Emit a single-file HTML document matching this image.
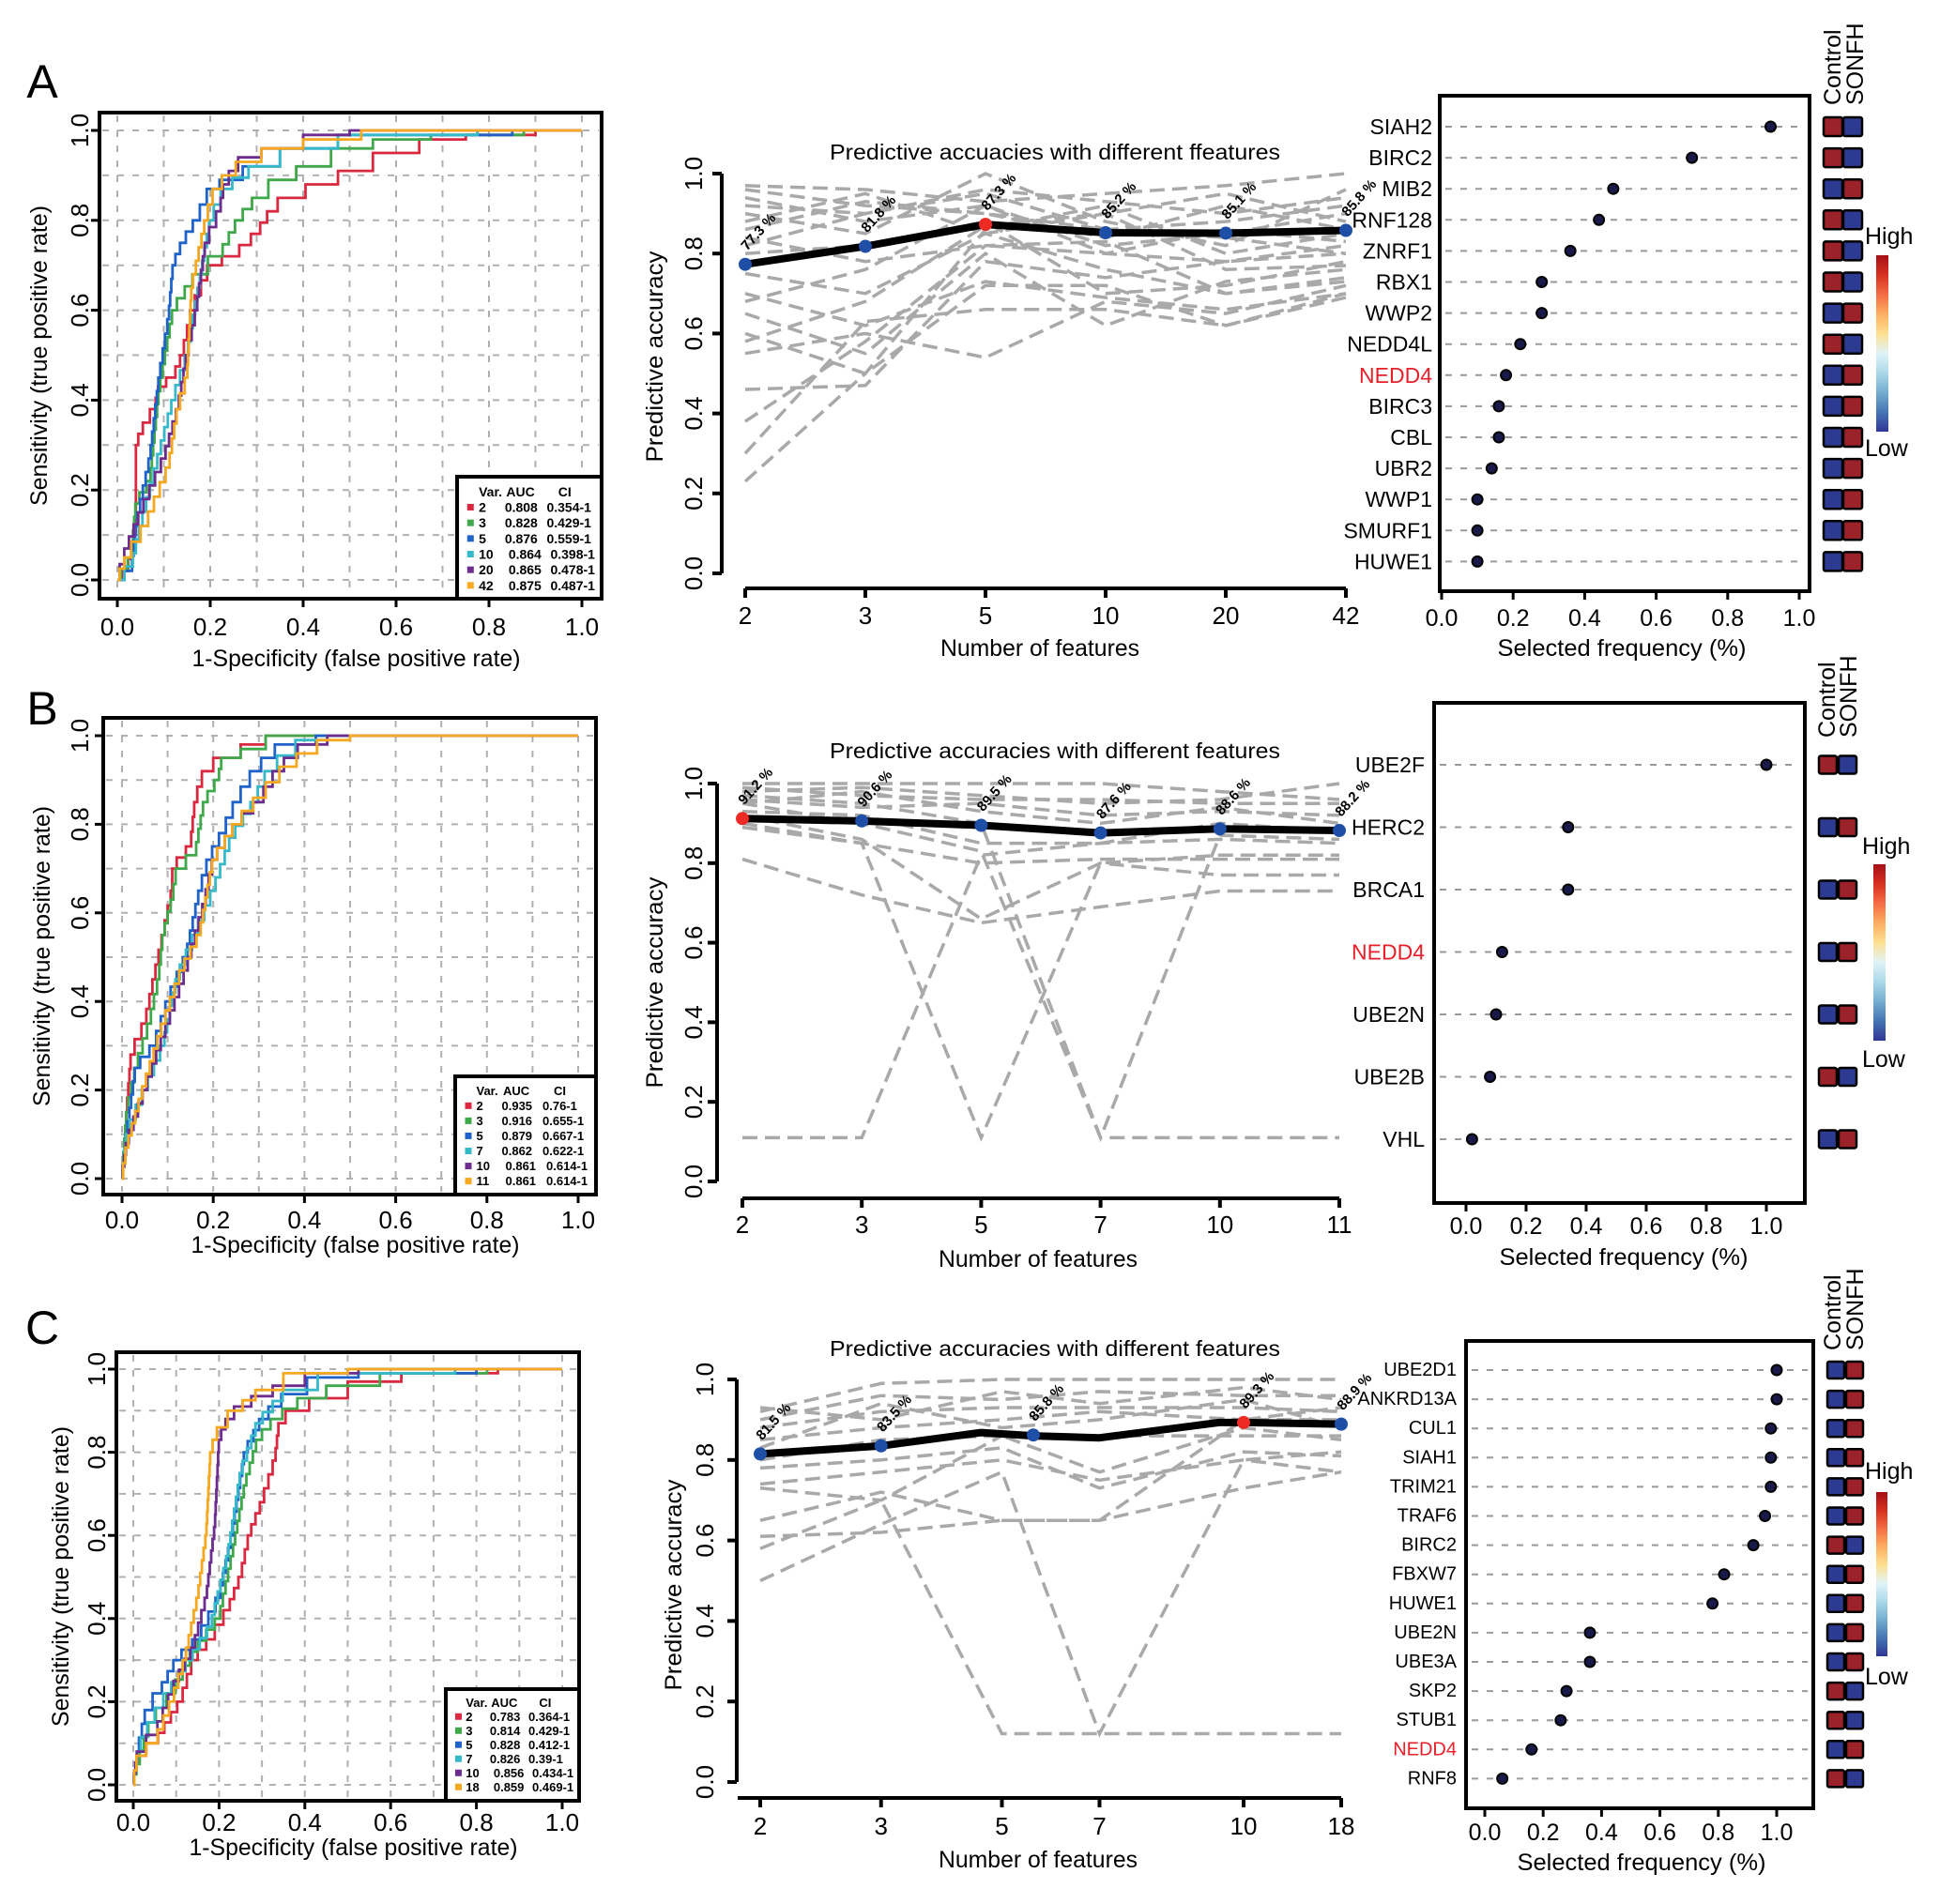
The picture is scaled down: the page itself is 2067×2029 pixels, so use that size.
<!DOCTYPE html>
<html><head><meta charset="utf-8"><style>
html,body{margin:0;padding:0;background:#fff;}
svg{display:block;font-family:"Liberation Sans",Arial,sans-serif;}
</style></head><body>
<svg id="fig" xmlns="http://www.w3.org/2000/svg" width="2067" height="2029" viewBox="0 0 2067 2029"></svg>
<script>
// ===== ROC data (fpr, tpr) =====
const rocA_2=[[0,0],[0.02,0.02],[0.04,0.1],[0.04,0.3],[0.06,0.35],[0.08,0.38],[0.09,0.43],[0.12,0.45],[0.14,0.5],[0.16,0.6],[0.2,0.7],[0.25,0.72],[0.3,0.77],[0.33,0.82],[0.36,0.85],[0.45,0.88],[0.5,0.91],[0.6,0.95],[0.7,0.98],[0.8,0.99],[1,1]];
const rocA_3=[[0,0],[0.03,0.05],[0.04,0.17],[0.07,0.22],[0.09,0.42],[0.12,0.6],[0.17,0.68],[0.22,0.72],[0.26,0.8],[0.3,0.85],[0.35,0.89],[0.42,0.92],[0.5,0.96],[0.6,0.98],[0.75,0.99],[1,1]];
const rocA_5=[[0,0],[0.03,0.02],[0.04,0.12],[0.07,0.27],[0.09,0.45],[0.11,0.58],[0.12,0.7],[0.14,0.75],[0.17,0.8],[0.2,0.87],[0.24,0.89],[0.3,0.92],[0.4,0.96],[0.55,0.99],[0.7,0.99],[1,1]];
const rocA_10=[[0,0],[0.03,0.03],[0.05,0.12],[0.09,0.28],[0.12,0.4],[0.15,0.5],[0.17,0.62],[0.2,0.8],[0.23,0.87],[0.3,0.92],[0.4,0.96],[0.55,0.99],[1,1]];
const rocA_20=[[0,0],[0.02,0.07],[0.05,0.15],[0.1,0.27],[0.13,0.38],[0.15,0.5],[0.17,0.6],[0.19,0.75],[0.22,0.82],[0.23,0.88],[0.27,0.94],[0.35,0.96],[0.45,0.99],[0.55,1],[1,1]];
const rocA_42=[[0,0],[0.02,0.05],[0.06,0.12],[0.11,0.25],[0.13,0.38],[0.15,0.45],[0.16,0.65],[0.19,0.8],[0.21,0.87],[0.27,0.93],[0.35,0.96],[0.45,0.98],[0.6,1],[1,1]];
const rocB_2=[[0,0],[0.01,0.15],[0.02,0.28],[0.05,0.35],[0.07,0.45],[0.09,0.55],[0.11,0.65],[0.11,0.7],[0.15,0.75],[0.16,0.85],[0.18,0.92],[0.22,0.95],[0.3,0.98],[0.33,1],[1,1]];
const rocB_3=[[0,0],[0.01,0.15],[0.03,0.25],[0.06,0.35],[0.08,0.45],[0.09,0.55],[0.11,0.63],[0.12,0.7],[0.16,0.73],[0.18,0.85],[0.21,0.9],[0.22,0.95],[0.3,0.97],[0.33,1],[1,1]];
const rocB_5=[[0,0],[0.01,0.1],[0.03,0.25],[0.07,0.3],[0.1,0.4],[0.14,0.5],[0.17,0.65],[0.19,0.72],[0.22,0.78],[0.25,0.85],[0.29,0.92],[0.35,0.98],[0.5,1],[1,1]];
const rocB_7=[[0,0],[0.01,0.1],[0.05,0.2],[0.09,0.3],[0.12,0.45],[0.16,0.55],[0.2,0.65],[0.24,0.77],[0.29,0.85],[0.32,0.92],[0.4,0.99],[0.5,1],[1,1]];
const rocB_10=[[0,0],[0.01,0.08],[0.05,0.2],[0.1,0.35],[0.14,0.47],[0.18,0.62],[0.2,0.72],[0.25,0.8],[0.3,0.85],[0.34,0.92],[0.4,0.98],[0.5,1],[1,1]];
const rocB_11=[[0,0],[0.01,0.07],[0.04,0.18],[0.09,0.35],[0.13,0.47],[0.17,0.55],[0.2,0.72],[0.25,0.8],[0.3,0.86],[0.36,0.93],[0.45,0.99],[0.55,1],[1,1]];
const rocC_2=[[0,0],[0.01,0.07],[0.05,0.1],[0.08,0.15],[0.11,0.2],[0.14,0.3],[0.18,0.35],[0.22,0.42],[0.25,0.5],[0.27,0.6],[0.3,0.68],[0.33,0.78],[0.34,0.87],[0.37,0.9],[0.45,0.93],[0.55,0.97],[0.7,0.99],[1,1]];
const rocC_3=[[0,0],[0.01,0.05],[0.04,0.15],[0.09,0.22],[0.14,0.32],[0.2,0.4],[0.23,0.55],[0.26,0.72],[0.29,0.83],[0.33,0.88],[0.4,0.93],[0.5,0.96],[0.65,0.99],[1,1]];
const rocC_5=[[0,0],[0.01,0.08],[0.03,0.18],[0.06,0.22],[0.1,0.3],[0.15,0.35],[0.2,0.45],[0.23,0.6],[0.26,0.8],[0.3,0.88],[0.36,0.94],[0.45,0.98],[0.6,0.99],[1,1]];
const rocC_7=[[0,0],[0.01,0.08],[0.04,0.15],[0.08,0.22],[0.13,0.3],[0.18,0.38],[0.22,0.55],[0.25,0.75],[0.29,0.87],[0.36,0.95],[0.5,0.99],[1,1]];
const rocC_10=[[0,0],[0.01,0.08],[0.05,0.12],[0.1,0.25],[0.14,0.33],[0.17,0.45],[0.19,0.62],[0.2,0.83],[0.22,0.88],[0.25,0.91],[0.35,0.96],[0.45,0.99],[0.6,1],[1,1]];
const rocC_18=[[0,0],[0.01,0.07],[0.05,0.1],[0.09,0.2],[0.12,0.3],[0.15,0.45],[0.17,0.6],[0.18,0.8],[0.2,0.86],[0.24,0.9],[0.3,0.95],[0.4,0.99],[0.6,1],[1,1]];
const legendA_var=["2","3","5","10","20","42"];
const legendA_auc=["0.808","0.828","0.876","0.864","0.865","0.875"];
const legendA_ci=["0.354-1","0.429-1","0.559-1","0.398-1","0.478-1","0.487-1"];
const legendB_var=["2","3","5","7","10","11"];
const legendB_auc=["0.935","0.916","0.879","0.862","0.861","0.861"];
const legendB_ci=["0.76-1","0.655-1","0.667-1","0.622-1","0.614-1","0.614-1"];
const legendC_var=["2","3","5","7","10","18"];
const legendC_auc=["0.783","0.814","0.828","0.826","0.856","0.859"];
const legendC_ci=["0.364-1","0.429-1","0.412-1","0.39-1","0.434-1","0.469-1"];
const rocTicks=[0,0.2,0.4,0.6,0.8,1.0];
const rocTickLabels=["0.0","0.2","0.4","0.6","0.8","1.0"];

// ===== Accuracy data =====
const accA_cats=["2","3","5","10","20","42"];
const accA_vals=[0.773,0.818,0.873,0.852,0.851,0.858];
const accA_labels=["77.3 %","81.8 %","87.3 %","85.2 %","85.1 %","85.8 %"];
const accA_best=2;
const accA_gray=[[0.96,0.92,0.9,0.86,0.88,0.92],[0.94,0.88,0.92,0.82,0.85,0.9],[0.9,0.85,1.0,0.88,0.82,0.96],[0.88,0.95,0.85,0.9,0.95,0.88],[0.84,0.78,0.82,0.8,0.78,0.82],[0.8,0.82,0.88,0.7,0.72,0.78],[0.75,0.7,0.85,0.76,0.7,0.74],[0.7,0.62,0.73,0.69,0.66,0.7],[0.65,0.55,0.8,0.62,0.73,0.76],[0.6,0.5,0.72,0.72,0.62,0.69],[0.55,0.6,0.54,0.68,0.65,0.72],[0.46,0.47,0.78,0.74,0.78,0.8],[0.38,0.58,0.82,0.83,0.7,0.73],[0.3,0.63,0.66,0.66,0.62,0.7],[0.23,0.5,0.86,0.92,0.8,0.85],[0.97,0.96,0.93,0.95,0.97,1.0],[0.92,0.9,0.96,0.93,0.9,0.94],[0.86,0.93,0.9,0.84,0.92,0.86],[0.82,0.9,0.95,0.86,0.84,0.8],[0.68,0.76,0.92,0.8,0.86,0.83],[0.58,0.68,0.87,0.9,0.76,0.77]];
const accB_cats=["2","3","5","7","10","11"];
const accB_vals=[0.912,0.906,0.895,0.876,0.886,0.882];
const accB_labels=["91.2 %","90.6 %","89.5 %","87.6 %","88.6 %","88.2 %"];
const accB_best=0;
const accB_gray=[[1,1,1,1,0.98,0.96],[0.98,0.99,0.97,0.95,0.96,1.0],[0.96,0.94,0.95,0.92,0.93,0.92],[0.93,0.92,0.85,0.85,0.9,0.88],[0.89,0.85,0.8,0.81,0.81,0.81],[0.81,0.72,0.65,0.69,0.73,0.73],[0.92,0.86,0.66,0.8,0.77,0.77],[0.11,0.11,0.82,0.85,0.86,0.85],[0.9,0.85,0.11,0.8,0.82,0.82],[0.95,0.9,0.83,0.11,0.11,0.11],[0.97,0.95,0.9,0.11,0.87,0.86],[0.99,0.97,0.96,0.96,0.95,0.95],[0.95,0.98,0.93,0.9,0.94,0.9]];
const accC_cats=["2","3","5","7","10","18"];
const accC_tickUnits=[0,1.04,2.08,2.92,4.16,5];
const accC_lineX=[0,1.04,1.9,2.35,2.92,3.95,4.16,5];
const accC_lineY=[0.815,0.835,0.868,0.86,0.855,0.893,0.893,0.889];
const accC_markX=[0,1.04,2.35,4.16,5];
const accC_markY=[0.815,0.835,0.862,0.893,0.889];
const accC_labels=["81.5 %","83.5 %","85.8 %","89.3 %","88.9 %"];
const accC_best=3;
const accC_gray=[[0.92,0.99,1,1,1,1],[0.9,0.96,0.95,0.97,0.96,0.96],[0.88,0.92,0.93,0.93,0.93,0.92],[0.85,0.88,0.9,0.92,0.9,0.9],[0.8,0.85,0.86,0.77,0.88,0.85],[0.78,0.8,0.83,0.73,0.82,0.81],[0.74,0.77,0.8,0.75,0.8,0.77],[0.65,0.72,0.65,0.65,0.73,0.77],[0.61,0.62,0.65,0.65,0.9,0.93],[0.58,0.7,0.12,0.12,0.12,0.12],[0.5,0.64,0.77,0.12,0.8,0.82],[0.73,0.7,0.86,0.86,0.86,0.86],[0.93,0.9,0.97,0.94,0.98,0.95],[0.83,0.94,0.88,0.9,0.95,0.88]];
const accTicks=[0,0.2,0.4,0.6,0.8,1.0];
const accTickLabels=["0.0","0.2","0.4","0.6","0.8","1.0"];

// ===== Selected frequency data =====
const freqA_genes=["SIAH2","BIRC2","MIB2","RNF128","ZNRF1","RBX1","WWP2","NEDD4L","NEDD4","BIRC3","CBL","UBR2","WWP1","SMURF1","HUWE1"];
const freqA_vals=[0.92,0.70,0.48,0.44,0.36,0.28,0.28,0.22,0.18,0.16,0.16,0.14,0.10,0.10,0.10];
const freqA_ctrlHigh=[1,1,0,1,1,1,0,1,0,0,0,0,0,0,0];
const freqB_genes=["UBE2F","HERC2","BRCA1","NEDD4","UBE2N","UBE2B","VHL"];
const freqB_vals=[1.0,0.34,0.34,0.12,0.10,0.08,0.02];
const freqB_ctrlHigh=[1,0,0,0,0,1,0];
const freqC_genes=["UBE2D1","ANKRD13A","CUL1","SIAH1","TRIM21","TRAF6","BIRC2","FBXW7","HUWE1","UBE2N","UBE3A","SKP2","STUB1","NEDD4","RNF8"];
const freqC_vals=[1.0,1.0,0.98,0.98,0.98,0.96,0.92,0.82,0.78,0.36,0.36,0.28,0.26,0.16,0.06];
const freqC_ctrlHigh=[0,0,0,0,0,0,1,0,0,0,0,1,1,0,1];
const freqTicks=[0,0.2,0.4,0.6,0.8,1.0];
const freqTickLabels=["0.0","0.2","0.4","0.6","0.8","1.0"];

const NS="http://www.w3.org/2000/svg";
const svg=document.getElementById('fig');
function mk(tag,attrs,parent,name,inter){
  const e=document.createElementNS(NS,tag);
  for(const k in attrs) e.setAttribute(k,attrs[k]);
  
  
  (parent||svg).appendChild(e);
  return e;
}
function txt(s,x,y,attrs,parent,name){
  const a=Object.assign({x:x,y:y,'dominant-baseline':'central','text-anchor':'middle'},attrs||{});
  const t=mk('text',a,parent,name);
  t.textContent=s;
  return t;
}
const rocColors=["#d9283f","#3fa84a","#1f62c9","#36b9c9","#6c2d8e","#f6a821"];

function rocPanel(G,curves,lv,la,lc,letter,id){
  const g=mk('g',{},svg,'roc-panel-'+id);
  const sx=v=>G.x0+(G.x1-G.x0)*v, sy=v=>G.y0+(G.y1-G.y0)*v;
  txt(letter,G.lx,G.ly,{'font-size':50},g,'panel-label-'+id);
  for(let i=0;i<=10;i++){
    const v=i/10;
    mk('line',{x1:sx(v),x2:sx(v),y1:G.t+3,y2:G.b-3,stroke:'#b0b0b0','stroke-width':2,'stroke-dasharray':'7 9'},g,'grid-v');
    mk('line',{x1:G.l+3,x2:G.r-3,y1:sy(v),y2:sy(v),stroke:'#b0b0b0','stroke-width':2,'stroke-dasharray':'7 9'},g,'grid-h');
  }
  curves.forEach((c,ci)=>{
    // staircase: rise in small steps between points
    let pts=[];
    for(let k=0;k<c.length;k++){
      if(k===0){pts.push([c[0][0],c[0][1]]);continue;}
      const a=c[k-1],b=c[k];
      const n=Math.max(1,Math.round((b[1]-a[1])/0.03));
      for(let s=1;s<=n;s++){
        const fx=a[0]+(b[0]-a[0])*(s-0.5)/n, fy=a[1]+(b[1]-a[1])*s/n;
        pts.push([fx,a[1]+(b[1]-a[1])*(s-1)/n]);
        pts.push([fx,fy]);
      }
      pts.push([b[0],b[1]]);
    }
    const ps=pts.map(p=>sx(p[0]).toFixed(1)+','+sy(p[1]).toFixed(1)).join(' ');
    mk('polyline',{points:ps,fill:'none',stroke:rocColors[ci],'stroke-width':2.8,'stroke-linejoin':'miter'},g,'roc-curve-'+lv[ci]);
  });
  mk('rect',{x:G.l,y:G.t,width:G.r-G.l,height:G.b-G.t,fill:'none',stroke:'#000','stroke-width':4},g,'plot-frame');
  rocTicks.forEach((v,i)=>{
    mk('line',{x1:sx(v),x2:sx(v),y1:G.b,y2:G.b+9,stroke:'#000','stroke-width':3},g,'x-tick');
    txt(rocTickLabels[i],sx(v),G.tly,{'font-size':26},g,'x-tick-label');
    mk('line',{x1:G.l-9,x2:G.l,y1:sy(v),y2:sy(v),stroke:'#000','stroke-width':3},g,'y-tick');
    txt(rocTickLabels[i],G.ytx,sy(v),{'font-size':26,transform:'rotate(-90 '+G.ytx+' '+sy(v)+')'},g,'y-tick-label');
  });
  txt('1-Specificity (false positive rate)',(G.l+G.r)/2+6,G.xly,{'font-size':25,textLength:350,lengthAdjust:'spacingAndGlyphs'},g,'x-axis-title');
  const yc=(G.t+G.b)/2;
  txt('Sensitivity (true positive rate)',G.ylx,yc,{'font-size':25,textLength:320,lengthAdjust:'spacingAndGlyphs',transform:'rotate(-90 '+G.ylx+' '+yc+')'},g,'y-axis-title');
  // legend
  const L=mk('g',{},g,'legend');
  const w=G.r-G.lgl;
  const fs=w>150?14:13;
  mk('rect',{x:G.lgl,y:G.lgt,width:w,height:G.b-G.lgt,fill:'#fff',stroke:'#000','stroke-width':4},L,'legend-box');
  const step=(G.b-G.lgt-20)/6.6;
  const hy=G.lgt+step*0.95;
  txt('Var.',G.lgl+0.15*w,hy,{'font-size':fs,'font-weight':'bold','text-anchor':'start'},L,'legend-header-var');
  txt('AUC',G.lgl+0.34*w,hy,{'font-size':fs,'font-weight':'bold','text-anchor':'start'},L,'legend-header-auc');
  txt('CI',G.lgl+0.7*w,hy,{'font-size':fs,'font-weight':'bold','text-anchor':'start'},L,'legend-header-ci');
  lv.forEach((v,i)=>{
    const y=hy+step*(i+1);
    const e=mk('g',{},L,'legend-entry-'+v);
    mk('rect',{x:G.lgl+0.07*w,y:y-3.5,width:7,height:7,fill:rocColors[i]},e,'legend-swatch');
    txt(v,G.lgl+0.15*w,y,{'font-size':fs,'font-weight':'bold','text-anchor':'start'},e,'legend-var');
    txt(la[i],G.lgl+0.33*w+(v.length>1?4:0),y,{'font-size':fs,'font-weight':'bold','text-anchor':'start'},e,'legend-auc');
    txt(lc[i],G.lgl+0.62*w+(v.length>1?4:0),y,{'font-size':fs,'font-weight':'bold','text-anchor':'start'},e,'legend-ci');
  });
}

function accPanel(G,cats,tickUnits,gray,lineX,lineY,markX,markY,labels,best,title,id){
  const g=mk('g',{},svg,'accuracy-panel-'+id);
  const maxU=tickUnits[tickUnits.length-1];
  const sx=u=>G.xa+(G.xb-G.xa)*u/maxU, sy=v=>G.y0+(G.y1-G.y0)*v;
  txt(title,G.tx,G.ty,{'font-size':23,textLength:G.tw,lengthAdjust:'spacingAndGlyphs'},g,'chart-title');
  gray.forEach((s)=>{
    const pts=s.map((v,i)=>sx(tickUnits[i]).toFixed(1)+','+sy(v).toFixed(1)).join(' ');
    mk('polyline',{points:pts,fill:'none',stroke:'#a9a9a9','stroke-width':3.5,'stroke-dasharray':'16 8'},g,'gray-run-line');
  });
  const pts=lineX.map((u,i)=>sx(u).toFixed(1)+','+sy(lineY[i]).toFixed(1)).join(' ');
  mk('polyline',{points:pts,fill:'none',stroke:'#000','stroke-width':8,'stroke-linejoin':'round'},g,'mean-accuracy-line');
  markX.forEach((u,i)=>{
    const x=sx(u),y=sy(markY[i]);
    mk('circle',{cx:x,cy:y,r:7,fill:i===best?'#ee2a24':'#1f4ea6'},g,'accuracy-point');
    const lx=x+2,ly=y-14;
    const t=mk('text',{x:lx,y:ly,'font-size':15,'font-weight':'bold',transform:'rotate(-48 '+lx+' '+ly+')'},g,'accuracy-label');
    t.textContent=labels[i];
  });
  mk('line',{x1:G.yx,x2:G.yx,y1:sy(0),y2:sy(1),stroke:'#000','stroke-width':4},g,'y-axis-line');
  accTicks.forEach((v,i)=>{
    mk('line',{x1:G.yx-10,x2:G.yx,y1:sy(v),y2:sy(v),stroke:'#000','stroke-width':4},g,'y-tick');
    txt(accTickLabels[i],G.ytx,sy(v),{'font-size':26,transform:'rotate(-90 '+G.ytx+' '+sy(v)+')'},g,'y-tick-label');
  });
  mk('line',{x1:G.xl,x2:sx(maxU),y1:G.xy,y2:G.xy,stroke:'#000','stroke-width':4},g,'x-axis-line');
  cats.forEach((c,i)=>{
    const x=sx(tickUnits[i]);
    mk('line',{x1:x,x2:x,y1:G.xy,y2:G.xy+10,stroke:'#000','stroke-width':4},g,'x-tick');
    txt(c,x,G.tly,{'font-size':26},g,'x-tick-label');
  });
  txt('Number of features',G.xlx,G.xly,{'font-size':25,textLength:212,lengthAdjust:'spacingAndGlyphs'},g,'x-axis-title');
  txt('Predictive accuracy',G.ylx,G.yly,{'font-size':25,textLength:225,lengthAdjust:'spacingAndGlyphs',transform:'rotate(-90 '+G.ylx+' '+G.yly+')'},g,'y-axis-title');
}

function freqPanel(G,genes,vals,ctrlHigh,id){
  const g=mk('g',{},svg,'frequency-panel-'+id);
  const sx=v=>G.x0+(G.x1-G.x0)*v;
  const ry=i=>G.r0+G.step*i;
  genes.forEach((gn,i)=>{
    const y=ry(i);
    mk('line',{x1:G.l+6,x2:G.r-6,y1:y,y2:y,stroke:'#999','stroke-width':2,'stroke-dasharray':'7 9'},g,'row-guide');
    txt(gn,G.lr,y,{'font-size':G.fs,'text-anchor':'end',fill:gn==='NEDD4'?'#e8202a':'#000'},g,'gene-label-'+gn.toLowerCase());
    mk('circle',{cx:sx(vals[i]),cy:y,r:5.5,fill:'#1a1a4a',stroke:'#000','stroke-width':2},g,'frequency-dot-'+gn.toLowerCase());
    const red='#9a2228',blue='#2c3b91';
    mk('rect',{x:G.s1,y:y-G.sh/2,width:G.sw,height:G.sh,fill:ctrlHigh[i]?red:blue,stroke:'#000','stroke-width':2.5,rx:2},g,'heat-control-'+gn.toLowerCase());
    mk('rect',{x:G.s2,y:y-G.sh/2,width:G.sw,height:G.sh,fill:ctrlHigh[i]?blue:red,stroke:'#000','stroke-width':2.5,rx:2},g,'heat-sonfh-'+gn.toLowerCase());
  });
  mk('rect',{x:G.l,y:G.t,width:G.r-G.l,height:G.b-G.t,fill:'none',stroke:'#000','stroke-width':4},g,'plot-frame');
  freqTicks.forEach((v,i)=>{
    mk('line',{x1:sx(v),x2:sx(v),y1:G.b,y2:G.b+9,stroke:'#000','stroke-width':3},g,'x-tick');
    txt(freqTickLabels[i],sx(v),G.tly,{'font-size':25},g,'x-tick-label');
  });
  txt('Selected frequency (%)',G.xlx,G.xly,{'font-size':25,textLength:265,lengthAdjust:'spacingAndGlyphs'},g,'x-axis-title');
  txt('Control',G.h1,G.hb,{'font-size':25,'text-anchor':'start',transform:'rotate(-90 '+G.h1+' '+G.hb+')'},g,'group-header-control');
  txt('SONFH',G.h2,G.hb,{'font-size':25,'text-anchor':'start',transform:'rotate(-90 '+G.h2+' '+G.hb+')'},g,'group-header-sonfh');
  const gid='cb'+id;
  const defs=mk('defs',{},g,'defs');
  const lg=mk('linearGradient',{id:gid,x1:0,y1:0,x2:0,y2:1},defs,'colorbar-gradient');
  const stops=['#a50f15','#d7301f','#f46d43','#fdae61','#fee090','#e0f3f8','#abd9e9','#74add1','#4575b4','#313695'];
  stops.forEach((c,i)=>{mk('stop',{offset:(i/(stops.length-1)),'stop-color':c},lg,'gradient-stop');});
  mk('rect',{x:G.cbx,y:G.cbt,width:G.cbw,height:G.cbb-G.cbt,fill:'url(#'+gid+')'},g,'colorbar');
  txt('High',G.cbx-12,G.hy,{'font-size':25,'text-anchor':'start'},g,'colorbar-high-label');
  txt('Low',G.cbx-12,G.ly,{'font-size':25,'text-anchor':'start'},g,'colorbar-low-label');
}

rocPanel({l:106,t:120,r:641,b:638,x0:125,x1:620,y0:618,y1:139,lgl:487,lgt:508,lx:45,ly:87,tly:668,xly:702,ylx:42,ytx:85},
  [rocA_2,rocA_3,rocA_5,rocA_10,rocA_20,rocA_42],legendA_var,legendA_auc,legendA_ci,'A','a');
rocPanel({l:110,t:765,r:635,b:1273,x0:130,x1:616,y0:1256,y1:784,lgl:485,lgt:1147,lx:45,ly:755,tly:1300,xly:1327,ylx:45,ytx:85},
  [rocB_2,rocB_3,rocB_5,rocB_7,rocB_10,rocB_11],legendB_var,legendB_auc,legendB_ci,'B','b');
rocPanel({l:124,t:1441,r:617,b:1919,x0:142,x1:599,y0:1902,y1:1459,lgl:475,lgt:1800,lx:45,ly:1415,tly:1942,xly:1969,ylx:65,ytx:103},
  [rocC_2,rocC_3,rocC_5,rocC_7,rocC_10,rocC_18],legendC_var,legendC_auc,legendC_ci,'C','c');

const unitsEven=[0,1,2,3,4,5];
accPanel({xa:794,xb:1434,y0:611,y1:185,yx:769,ytx:739,xl:794,xy:627,tly:656,xlx:1108,xly:691,ylx:698,yly:380,tx:1124,ty:162,tw:480},
  accA_cats,unitsEven,accA_gray,unitsEven,accA_vals,unitsEven,accA_vals,accA_labels,accA_best,'Predictive accuacies with different ffeatures','a');
accPanel({xa:791,xb:1427,y0:1259,y1:835,yx:764,ytx:739,xl:791,xy:1277,tly:1305,xlx:1106,xly:1342,ylx:698,yly:1047,tx:1124,ty:800,tw:480},
  accB_cats,unitsEven,accB_gray,unitsEven,accB_vals,unitsEven,accB_vals,accB_labels,accB_best,'Predictive accuracies with different features','b');
accPanel({xa:810,xb:1429,y0:1899,y1:1470,yx:785,ytx:751,xl:786,xy:1916,tly:1946,xlx:1106,xly:1982,ylx:718,yly:1689,tx:1124,ty:1437,tw:480},
  accC_cats,accC_tickUnits,accC_gray,accC_lineX,accC_lineY,accC_markX,accC_markY,accC_labels,accC_best,'Predictive accuracies with different features','c');

freqPanel({l:1534,t:102,r:1928,b:630,x0:1536,x1:1917,r0:135,step:33.1,lr:1526,fs:23,s1:1943,s2:1964,sw:20,sh:20,h1:1953,h2:1977,hb:112,cbx:1999,cbw:13,cbt:272,cbb:460,hy:252,ly:478,tly:659,xly:691,xlx:1728},
  freqA_genes,freqA_vals,freqA_ctrlHigh,'a');
freqPanel({l:1528,t:749,r:1923,b:1282,x0:1562,x1:1882,r0:815,step:66.5,lr:1518,fs:23,s1:1938,s2:1959,sw:19,sh:19,h1:1947,h2:1970,hb:786,cbx:1996,cbw:13,cbt:921,cbb:1109,hy:902,ly:1129,tly:1307,xly:1340,xlx:1730},
  freqB_genes,freqB_vals,freqB_ctrlHigh,'b');
freqPanel({l:1562,t:1429,r:1932,b:1927,x0:1582,x1:1893,r0:1460,step:31.1,lr:1552,fs:20,s1:1947,s2:1967,sw:18,sh:18,h1:1953,h2:1977,hb:1439,cbx:1999,cbw:12,cbt:1590,cbb:1765,hy:1568,ly:1787,tly:1953,xly:1985,xlx:1749},
  freqC_genes,freqC_vals,freqC_ctrlHigh,'c');
</script>
</body></html>
